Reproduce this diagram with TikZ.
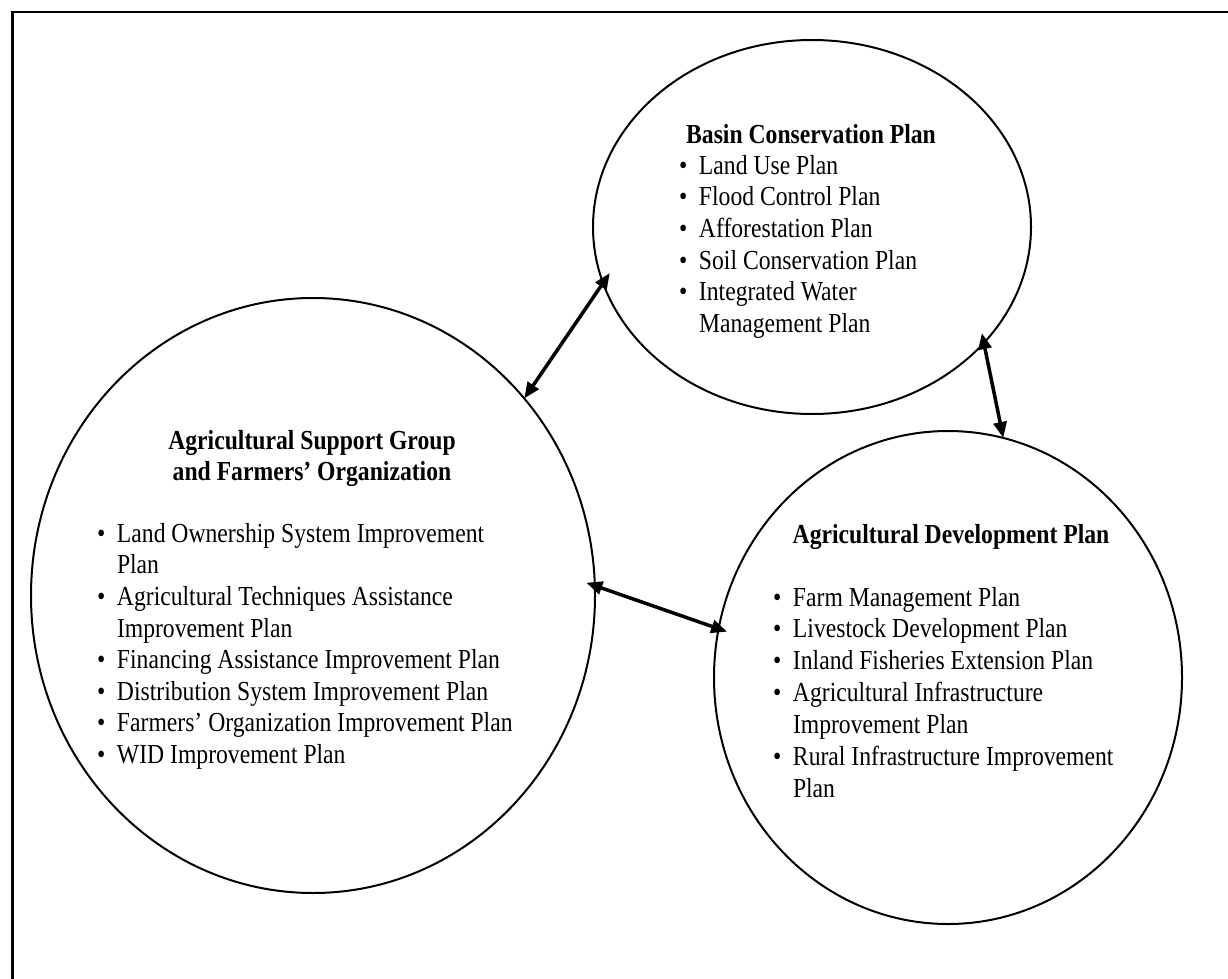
\documentclass[tikz,border=0pt]{standalone}
\usepackage{fontspec}
\setmainfont{Liberation Serif}[FakeStretch=0.86]
\usetikzlibrary{shapes.geometric,arrows.meta}

% bullet hung to the left of an item's first line
\newcommand{\listdot}{\llap{\makebox[20pt][l]{\textbullet}}}

\begin{document}
\begin{tikzpicture}[x=1pt,y=-1pt,
  every node/.style={inner sep=0pt,outer sep=0pt},
  plan/.style={draw,ellipse,line width=2pt},
  txt/.style={anchor=base west,font=\fontsize{27.5pt}{31.8pt}\selectfont},
  head/.style={anchor=base,font=\fontsize{27.5pt}{31.8pt}\selectfont\bfseries},
  link/.style={line width=3.5pt,{Triangle[length=16pt,width=13pt]}-{Triangle[length=16pt,width=13pt]}}]

\useasboundingbox (0,0) rectangle (1228,979);

% frame
\draw[line width=2pt] (11,12) -- (1228,12);
\draw[line width=3pt] (12.5,11) -- (12.5,979);

% the three plans
\node[plan,minimum width=438pt,minimum height=374pt] (basin) at (812,227) {};
\node[plan,minimum width=564pt,minimum height=595pt] (support) at (313,595.5) {};
\node[plan,minimum width=468pt,minimum height=493pt] (agri) at (948,677.5) {};

% Basin Conservation Plan
\node[head] (bt) at (811,143) {Basin Conservation Plan};
\node[txt] (b1) at (699,174) {\listdot Land Use Plan};
\node[txt] (b2) at (699,205.7) {\listdot Flood Control Plan};
\node[txt] (b3) at (699,237.4) {\listdot Afforestation Plan};
\node[txt] (b4) at (699,269.1) {\listdot Soil Conservation Plan};
\node[txt] (b5) at (699,300.8) {\listdot Integrated Water};
\node[txt] (b6) at (699,332.5) {Management Plan};

% Agricultural Support Group and Farmers' Organization
\node[head] (st1) at (312,449) {Agricultural Support Group};
\node[head] (st2) at (312,480) {and Farmers’ Organization};
\node[txt] (s1) at (117,542) {\listdot Land Ownership System Improvement};
\node[txt] (s2) at (117,573.7) {Plan};
\node[txt] (s3) at (117,605.3) {\listdot Agricultural Techniques Assistance};
\node[txt] (s4) at (117,637) {Improvement Plan};
\node[txt] (s5) at (117,668.6) {\listdot Financing Assistance Improvement Plan};
\node[txt] (s6) at (117,700.3) {\listdot Distribution System Improvement Plan};
\node[txt] (s7) at (117,731.9) {\listdot Farmers’ Organization Improvement Plan};
\node[txt] (s8) at (117,763.6) {\listdot WID Improvement Plan};

% Agricultural Development Plan
\node[head] (at) at (951,543) {Agricultural Development Plan};
\node[txt] (a1) at (793,606) {\listdot Farm Management Plan};
\node[txt] (a2) at (793,637.9) {\listdot Livestock Development Plan};
\node[txt] (a3) at (793,669.8) {\listdot Inland Fisheries Extension Plan};
\node[txt] (a4) at (793,701.7) {\listdot Agricultural Infrastructure};
\node[txt] (a5) at (793,733.6) {Improvement Plan};
\node[txt] (a6) at (793,765.5) {\listdot Rural Infrastructure Improvement};
\node[txt] (a7) at (793,797.4) {Plan};

% links between the plans
\draw[link,shorten >=-12pt] (support.43.7) -- (basin.195.3);
\draw[link,shorten <=-9pt,shorten >=-9pt] (support.2.3) -- (agri.168);
\draw[link,shorten <=-10pt] (basin.326.5) -- (agri.77.35);
\end{tikzpicture}
\end{document}
